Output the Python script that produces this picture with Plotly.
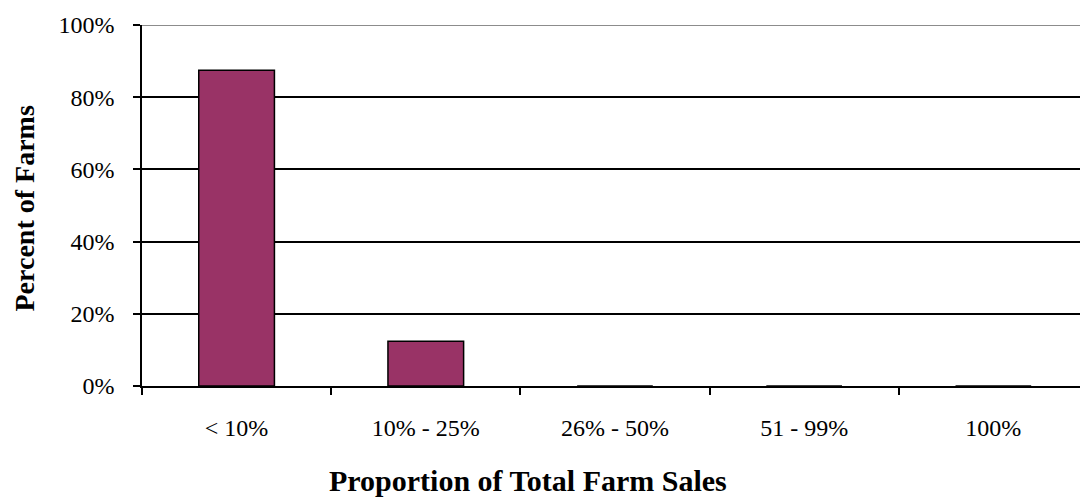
import plotly.graph_objects as go

# Share of farms by proportion of total farm sales
categories = ["< 10%", "10% - 25%", "26% - 50%", "51 - 99%", "100%"]
percent_of_farms = [87.5, 12.4, 0, 0, 0]
y_ticks = [0, 20, 40, 60, 80, 100]
y_tick_labels = ["0%", "20%", "40%", "60%", "80%", "100%"]

SERIF = "Liberation Serif, Times New Roman, serif"

fig = go.Figure(
    go.Bar(
        x=categories,
        y=percent_of_farms,
        width=0.4,
        marker=dict(color="#993366", line=dict(color="black", width=1.5)),
        hoverinfo="skip",
    )
)

fig.update_layout(
    width=1080,
    height=499,
    margin=dict(l=142, r=0, t=25, b=113),
    paper_bgcolor="white",
    plot_bgcolor="white",
    showlegend=False,
    font=dict(family=SERIF, color="black", size=24),
    xaxis=dict(
        type="category",
        range=[-0.5, 4.458],
        tickson="boundaries",
        ticks="outside",
        ticklen=7,
        tickwidth=1.5,
        tickcolor="black",
        showline=True,
        linecolor="black",
        linewidth=1.5,
        showgrid=False,
        ticklabelstandoff=19,
        tickfont=dict(family=SERIF, size=24),
    ),
    yaxis=dict(
        range=[0, 100],
        tickvals=y_ticks,
        ticktext=y_tick_labels,
        ticks="outside",
        ticklen=7,
        tickwidth=1.5,
        tickcolor="black",
        showline=True,
        linecolor="black",
        linewidth=1.5,
        showgrid=True,
        gridcolor="black",
        gridwidth=1.5,
        zeroline=False,
        ticklabelstandoff=14,
        tickfont=dict(family=SERIF, size=24),
    ),
    shapes=[
        dict(
            type="line", xref="paper", yref="y",
            x0=0, x1=1, y0=100, y1=100,
            line=dict(color="#8c8c8c", width=2), layer="above",
        )
    ],
    annotations=[
        dict(
            text="<b>Proportion of Total Farm Sales</b>",
            xref="paper", yref="paper",
            x=(528 - 142) / 938, y=-(480 - 386) / 361,
            xanchor="center", yanchor="middle", showarrow=False,
            font=dict(family=SERIF, size=30, color="black"),
        ),
        dict(
            text="<b>Percent of Farms</b>",
            xref="paper", yref="paper",
            x=-(142 - 24) / 938, y=(386 - 208.5) / 361,
            xanchor="center", yanchor="middle", showarrow=False,
            textangle=-90,
            font=dict(family=SERIF, size=28, color="black"),
        ),
    ],
)

fig.write_html("out.html")
